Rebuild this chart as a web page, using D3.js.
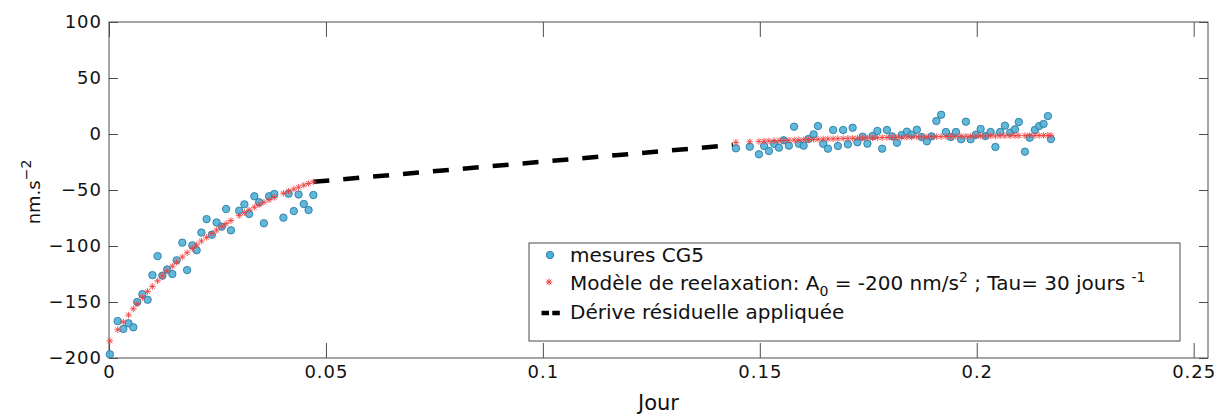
<!DOCTYPE html>
<html><head><meta charset="utf-8">
<script src="https://cdn.jsdelivr.net/npm/d3@7"></script>
<style>
body{margin:0;background:#fff;}
svg{display:block;font-family:"DejaVu Sans",sans-serif;}
</style>
</head><body>
<svg id="chart" width="1221" height="414"></svg>
<script>
// ---- data ----
const leftTimes = [0.0002,0.0020,0.0033,0.0045,0.0056,0.0065,0.0077,0.0089,0.0100,0.0112,0.0123,0.0134,0.0146,0.0156,0.0169,0.0180,0.0192,0.0202,0.0213,0.0225,0.0237,0.0248,0.0260,0.0270,0.0281,0.0300,0.0312,0.0323,0.0335,0.0346,0.0357,0.0369,0.0381,0.0402,0.0414,0.0426,0.0437,0.0449,0.0460,0.0471];
const leftMeasures = [-196.7,-167,-174,-169,-172.6,-150,-143,-148,-126,-109,-126.5,-121,-125,-112.8,-97,-121.5,-99.4,-103.8,-88,-76,-90,-79,-82.7,-67,-86,-68.5,-62.8,-71.4,-55.6,-61,-79.7,-55.6,-53.6,-74.7,-53.3,-68.8,-54,-62.5,-67.9,-54.5];
const leftModel = [-184.8,-174.7,-167.8,-161.6,-156.1,-151.7,-146.0,-140.5,-136.1,-131.1,-126.6,-122.3,-118.0,-114.4,-109.8,-106.0,-102.1,-99.0,-95.6,-92.3,-88.8,-85.8,-82.5,-80.0,-77.3,-72.8,-70.2,-67.8,-65.4,-63.2,-61.0,-58.8,-56.6,-52.9,-51.0,-49.2,-47.5,-45.7,-44.2,-42.7];

const rightTimes = [0.1445,0.1477,0.1498,0.1510,0.1521,0.1533,0.1544,0.1555,0.1567,0.1579,0.1590,0.1601,0.1612,0.1624,0.1634,0.1646,0.1657,0.1669,0.1680,0.1692,0.1703,0.1714,0.1725,0.1737,0.1748,0.1760,0.1771,0.1782,0.1793,0.1805,0.1816,0.1827,0.1839,0.1850,0.1862,0.1873,0.1885,0.1896,0.1907,0.1918,0.1929,0.1940,0.1952,0.1964,0.1975,0.1986,0.1998,0.2009,0.2020,0.2032,0.2043,0.2054,0.2065,0.2077,0.2088,0.2097,0.2111,0.2122,0.2134,0.2144,0.2154,0.2164,0.2171];
const rightMeasures = [-12.8,-11.3,-18.1,-10.7,-15.2,-8.7,-12.2,-5.6,-10.4,6.5,-8.7,-10.4,-4.5,-0.3,7.1,-8.7,-13.1,3.6,-10.7,3.6,-9.2,5.6,-7.4,-2.4,-8.7,-1.8,2.7,-13.1,3.6,-2.1,-7.8,-0.9,2.1,-0.6,3.8,-2.7,-6.5,-2.1,11.6,17.2,1.8,-2.7,1.8,-4.7,11.0,-4.7,-0.6,4.5,-1.8,1.8,-11.6,1.8,7.4,1.2,4.2,10.7,-15.8,-3.3,3.6,7.1,9,16,-4.5];
const rightModel = [-7.5,-6.9,-6.6,-6.4,-6.2,-6.0,-5.9,-5.7,-5.5,-5.4,-5.2,-5.1,-4.9,-4.8,-4.7,-4.5,-4.4,-4.3,-4.2,-4.0,-3.9,-3.8,-3.7,-3.6,-3.5,-3.4,-3.3,-3.2,-3.1,-3.0,-3.0,-2.9,-2.8,-2.7,-2.6,-2.6,-2.5,-2.4,-2.4,-2.3,-2.2,-2.2,-2.1,-2.0,-2.0,-1.9,-1.9,-1.8,-1.8,-1.7,-1.7,-1.6,-1.6,-1.5,-1.5,-1.5,-1.4,-1.4,-1.3,-1.3,-1.3,-1.2,-1.2];

const driftTimes = [0.0471, 0.1438];
const driftValues = [-42.7, -9.8];

const xTickValues = [0, 0.05, 0.1, 0.15, 0.2, 0.25];
const xTickLabels = ["0", "0.05", "0.1", "0.15", "0.2", "0.25"];
const yTickValues = [-200, -150, -100, -50, 0, 50, 100];
const yTickLabels = ["\u2212200", "\u2212150", "\u2212100", "\u221250", "0", "50", "100"];
const xAxisTitle = "Jour";
const legendMeasures = "mesures CG5";
const legendDrift = "Dérive résiduelle appliquée";

// ---- layout ----
const svg = d3.select("#chart");
const L = 109, R = 1208, T = 22, B = 358;
const x = d3.scaleLinear().domain([0, 0.2533]).range([L, R]);
const y = d3.scaleLinear().domain([-200, 100]).range([B, T]);
const axisColor = "#4d4d4d";
const dotFill = "#4fb0d6", dotStroke = "#2a7ba3", starColor = "#f23c3c";
const font = '"DejaVu Sans", sans-serif';

// box
svg.append("rect").attr("x", L).attr("y", T).attr("width", R - L).attr("height", B - T)
  .attr("fill", "none").attr("stroke", axisColor).attr("stroke-width", 1);

// axes via d3 axis generators
const xAxis = d3.axisBottom(x).tickValues(xTickValues)
  .tickFormat((d, i) => xTickLabels[i]).tickSize(-15).tickPadding(7);
const gx = svg.append("g").attr("transform", `translate(0,${B})`).call(xAxis);
const xAxisTop = d3.axisTop(x).tickValues(xTickValues).tickFormat("").tickSize(-15);
const gxt = svg.append("g").attr("transform", `translate(0,${T})`).call(xAxisTop);

const yAxis = d3.axisLeft(y).tickValues(yTickValues)
  .tickFormat((d, i) => yTickLabels[i]).tickSize(-9).tickPadding(7);
const gy = svg.append("g").attr("transform", `translate(${L},0)`).call(yAxis);
const yAxisRight = d3.axisRight(y).tickValues(yTickValues).tickFormat("").tickSize(-9);
const gyr = svg.append("g").attr("transform", `translate(${R},0)`).call(yAxisRight);

[gx, gxt, gy, gyr].forEach(g => {
  g.select(".domain").remove();
  g.selectAll(".tick line").attr("stroke", axisColor).attr("stroke-width", 1);
  g.selectAll("text").attr("fill", "#111").style("font-family", font)
    .style("font-size", "18px").style("letter-spacing", "1px");
});

// axis titles
svg.append("text").attr("x", (L + R) / 2).attr("y", 410).attr("text-anchor", "middle")
  .style("font-size", "21px").attr("fill", "#111").text(xAxisTitle);
const yl = svg.append("text").attr("transform", `translate(40,${(T + B) / 2 + 2}) rotate(-90)`)
  .attr("text-anchor", "middle").style("font-size", "18px").attr("fill", "#111");
yl.append("tspan").text("nm.s");
yl.append("tspan").attr("dy", -9).style("font-size", "14px").text("\u22122");

// marks
const plot = svg.append("g");
const line = d3.line().x(d => x(d[0])).y(d => y(d[1]));
plot.append("path").datum(d3.zip(driftTimes, driftValues)).attr("d", line)
  .attr("fill", "none").attr("stroke", "#000").attr("stroke-width", 4.5).attr("stroke-dasharray", "16,14");

const meas = d3.zip(leftTimes, leftMeasures).concat(d3.zip(rightTimes, rightMeasures));
plot.selectAll("circle.m").data(meas).join("circle").attr("class", "m")
  .attr("cx", d => x(d[0])).attr("cy", d => y(d[1])).attr("r", 3.7)
  .attr("fill", dotFill).attr("stroke", dotStroke).attr("stroke-width", 0.9).attr("fill-opacity", 0.9);

const starPath = "M-3.3,0H3.3M0,-3.3V3.3M-2.4,-2.4L2.4,2.4M-2.4,2.4L2.4,-2.4";
const model = d3.zip(leftTimes, leftModel).concat(d3.zip(rightTimes, rightModel));
plot.selectAll("path.s").data(model).join("path").attr("class", "s")
  .attr("transform", d => `translate(${x(d[0])},${y(d[1])})`).attr("d", starPath)
  .attr("fill", "none").attr("stroke", starColor).attr("stroke-width", 1).attr("stroke-opacity", 0.85);

// legend
const lg = svg.append("g");
const lx0 = 529, lx1 = 1180, ly0 = 243, ly1 = 341;
lg.append("rect").attr("x", lx0).attr("y", ly0).attr("width", lx1 - lx0).attr("height", ly1 - ly0)
  .attr("fill", "#fff").attr("stroke", axisColor).attr("stroke-width", 1);
const rowY = [262, 290, 319];
const textX = 570;
lg.append("circle").attr("cx", 550).attr("cy", rowY[0] - 7).attr("r", 3.7)
  .attr("fill", dotFill).attr("stroke", dotStroke).attr("stroke-width", 0.9);
lg.append("path").attr("transform", `translate(549,${rowY[1] - 8})`).attr("d", starPath)
  .attr("fill", "none").attr("stroke", starColor).attr("stroke-width", 1);
lg.append("line").attr("x1", 541.5).attr("x2", 560).attr("y1", rowY[2] - 6).attr("y2", rowY[2] - 6)
  .attr("stroke", "#000").attr("stroke-width", 4.5).attr("stroke-dasharray", "7.5,3.3");

const fs = "20px";
lg.append("text").attr("x", textX).attr("y", rowY[0]).style("font-size", fs).attr("fill", "#111").text(legendMeasures);
const t2 = lg.append("text").attr("x", textX).attr("y", rowY[1]).style("font-size", fs).attr("fill", "#111");
t2.append("tspan").text("Modèle de reelaxation: A");
t2.append("tspan").attr("dy", 6).style("font-size", "14px").text("0");
t2.append("tspan").attr("dy", -6).text(" = -200 nm/s");
t2.append("tspan").attr("dy", -8).style("font-size", "14px").text("2");
t2.append("tspan").attr("dy", 8).text(" ; Tau= 30 jours ");
t2.append("tspan").attr("dy", -8).style("font-size", "14px").text("-1");
lg.append("text").attr("x", textX).attr("y", rowY[2]).style("font-size", fs).attr("fill", "#111").text(legendDrift);
</script>
</body></html>
